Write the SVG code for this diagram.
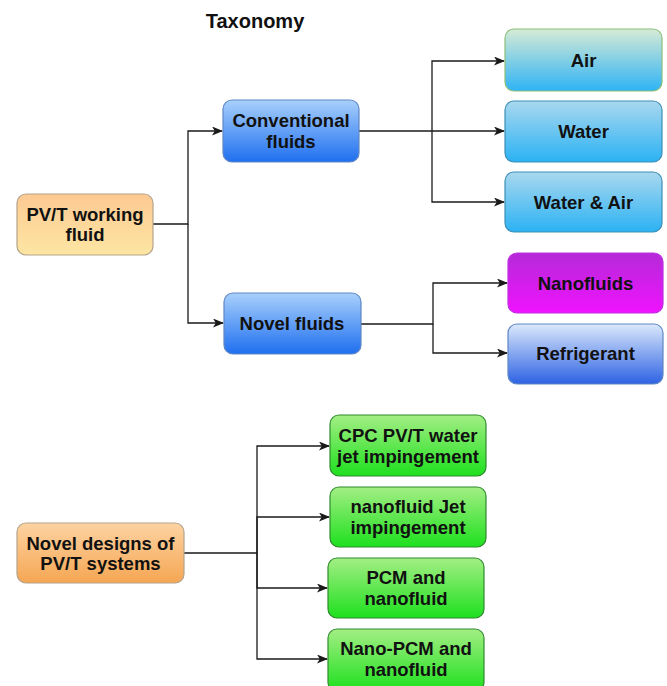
<svg xmlns="http://www.w3.org/2000/svg" width="667" height="686" viewBox="0 0 667 686">
<style>
text{font-family:"Liberation Sans",Arial,sans-serif;font-weight:bold;font-size:18.5px;fill:#111;text-anchor:middle}
.t{font-size:20px}
.c{fill:none;stroke:#1a1a1a;stroke-width:1.3}
</style>
<defs>
<marker id="ah" markerWidth="11" markerHeight="9" refX="10" refY="4.5" orient="auto" markerUnits="userSpaceOnUse">
<path d="M0,0 L11,4.5 L0,9 L2.8,4.5 Z" fill="#1a1a1a"/>
</marker>
<linearGradient id="gOr1" x1="0" y1="0" x2="0" y2="1"><stop offset="0" stop-color="#fcc992"/><stop offset="1" stop-color="#fde6a4"/></linearGradient>
<linearGradient id="gOr2" x1="0" y1="0" x2="0" y2="1"><stop offset="0" stop-color="#fdd3a2"/><stop offset="1" stop-color="#f5a653"/></linearGradient>
<linearGradient id="gBl" x1="0" y1="0" x2="0" y2="1"><stop offset="0" stop-color="#a8d0fb"/><stop offset="1" stop-color="#1f6ff0"/></linearGradient>
<linearGradient id="gAir" x1="0" y1="0" x2="0" y2="1"><stop offset="0" stop-color="#d6ebd6"/><stop offset="1" stop-color="#2fb3f5"/></linearGradient>
<linearGradient id="gWa" x1="0" y1="0" x2="0" y2="1"><stop offset="0" stop-color="#a9d8ef"/><stop offset="1" stop-color="#2bb2f3"/></linearGradient>
<linearGradient id="gMg" x1="0" y1="0" x2="0" y2="1"><stop offset="0" stop-color="#b52ad8"/><stop offset="1" stop-color="#f012ff"/></linearGradient>
<linearGradient id="gRf" x1="0" y1="0" x2="0" y2="1"><stop offset="0" stop-color="#dbe9fc"/><stop offset="1" stop-color="#2d62e3"/></linearGradient>
<linearGradient id="gGr" x1="0" y1="0" x2="0" y2="1"><stop offset="0" stop-color="#a3ee84"/><stop offset="1" stop-color="#1ee01e"/></linearGradient>
</defs>
<text class="t" x="255" y="28">Taxonomy</text>
<g id="connectors">
<path class="c" d="M153,224 H188 V131 H222" marker-end="url(#ah)"/>
<path class="c" d="M188,224 V323 H223" marker-end="url(#ah)"/>
<path class="c" d="M359,131 H504" marker-end="url(#ah)"/>
<path class="c" d="M432,131 V61 H504" marker-end="url(#ah)"/>
<path class="c" d="M432,131 V202 H504" marker-end="url(#ah)"/>
<path class="c" d="M361,324 H433 V283 H507" marker-end="url(#ah)"/>
<path class="c" d="M433,324 V353 H507" marker-end="url(#ah)"/>
<path class="c" d="M184,553 H257 V446 H329" marker-end="url(#ah)"/>
<path class="c" d="M257,553 V517 H329" marker-end="url(#ah)"/>
<path class="c" d="M257,553 V588 H327" marker-end="url(#ah)"/>
<path class="c" d="M257,553 V659 H327" marker-end="url(#ah)"/>
</g>
<g id="pvt-working-fluid"><rect x="17" y="194" width="136" height="61" rx="9" fill="url(#gOr1)" stroke="#b5a38a" stroke-width="1.2"/><text x="85" y="220.5">PV/T working</text><text x="85" y="241">fluid</text></g>
<g id="conventional-fluids"><rect x="223" y="100" width="136" height="62" rx="9" fill="url(#gBl)" stroke="#5f87c4" stroke-width="1.2"/><text x="291" y="126.5">Conventional</text><text x="291" y="148">fluids</text></g>
<g id="novel-fluids"><rect x="224" y="293" width="137" height="61" rx="9" fill="url(#gBl)" stroke="#5f87c4" stroke-width="1.2"/><text x="292" y="329.5">Novel fluids</text></g>
<g id="air"><rect x="505" y="29" width="157" height="62" rx="9" fill="url(#gAir)" stroke="#8cbf7a" stroke-width="1.2"/><text x="583.5" y="66.5">Air</text></g>
<g id="water"><rect x="505" y="101" width="157" height="61" rx="9" fill="url(#gWa)" stroke="#3d8fb5" stroke-width="1.2"/><text x="583.5" y="137.5">Water</text></g>
<g id="water-air"><rect x="505" y="172" width="157" height="60" rx="9" fill="url(#gWa)" stroke="#3d8fb5" stroke-width="1.2"/><text x="583.5" y="208.5">Water &amp; Air</text></g>
<g id="nanofluids"><rect x="508" y="253" width="155" height="60" rx="9" fill="url(#gMg)" stroke="#c030e0" stroke-width="1.2"/><text x="585.5" y="289.5">Nanofluids</text></g>
<g id="refrigerant"><rect x="508" y="324" width="155" height="60" rx="9" fill="url(#gRf)" stroke="#5f87c4" stroke-width="1.2"/><text x="585.5" y="359.5">Refrigerant</text></g>
<g id="novel-designs"><rect x="17" y="523" width="167" height="60" rx="9" fill="url(#gOr2)" stroke="#b5a38a" stroke-width="1.2"/><text x="100.5" y="549.5">Novel designs of</text><text x="100.5" y="570">PV/T systems</text></g>
<g id="cpc-jet"><rect x="330" y="415" width="156" height="61" rx="9" fill="url(#gGr)" stroke="#2f8a2f" stroke-width="1.2"/><text x="408" y="441.5">CPC PV/T water</text><text x="408" y="462.5">jet impingement</text></g>
<g id="nanofluid-jet"><rect x="330" y="487" width="156" height="60" rx="9" fill="url(#gGr)" stroke="#2f8a2f" stroke-width="1.2"/><text x="408" y="512.5">nanofluid Jet</text><text x="408" y="533.5">impingement</text></g>
<g id="pcm-nanofluid"><rect x="328" y="558" width="156" height="60" rx="9" fill="url(#gGr)" stroke="#2f8a2f" stroke-width="1.2"/><text x="406" y="583.5">PCM and</text><text x="406" y="604.5">nanofluid</text></g>
<g id="nano-pcm-nanofluid"><rect x="328" y="629" width="156" height="62" rx="9" fill="url(#gGr)" stroke="#2f8a2f" stroke-width="1.2"/><text x="406" y="654.5">Nano-PCM and</text><text x="406" y="676">nanofluid</text></g>
</svg>
